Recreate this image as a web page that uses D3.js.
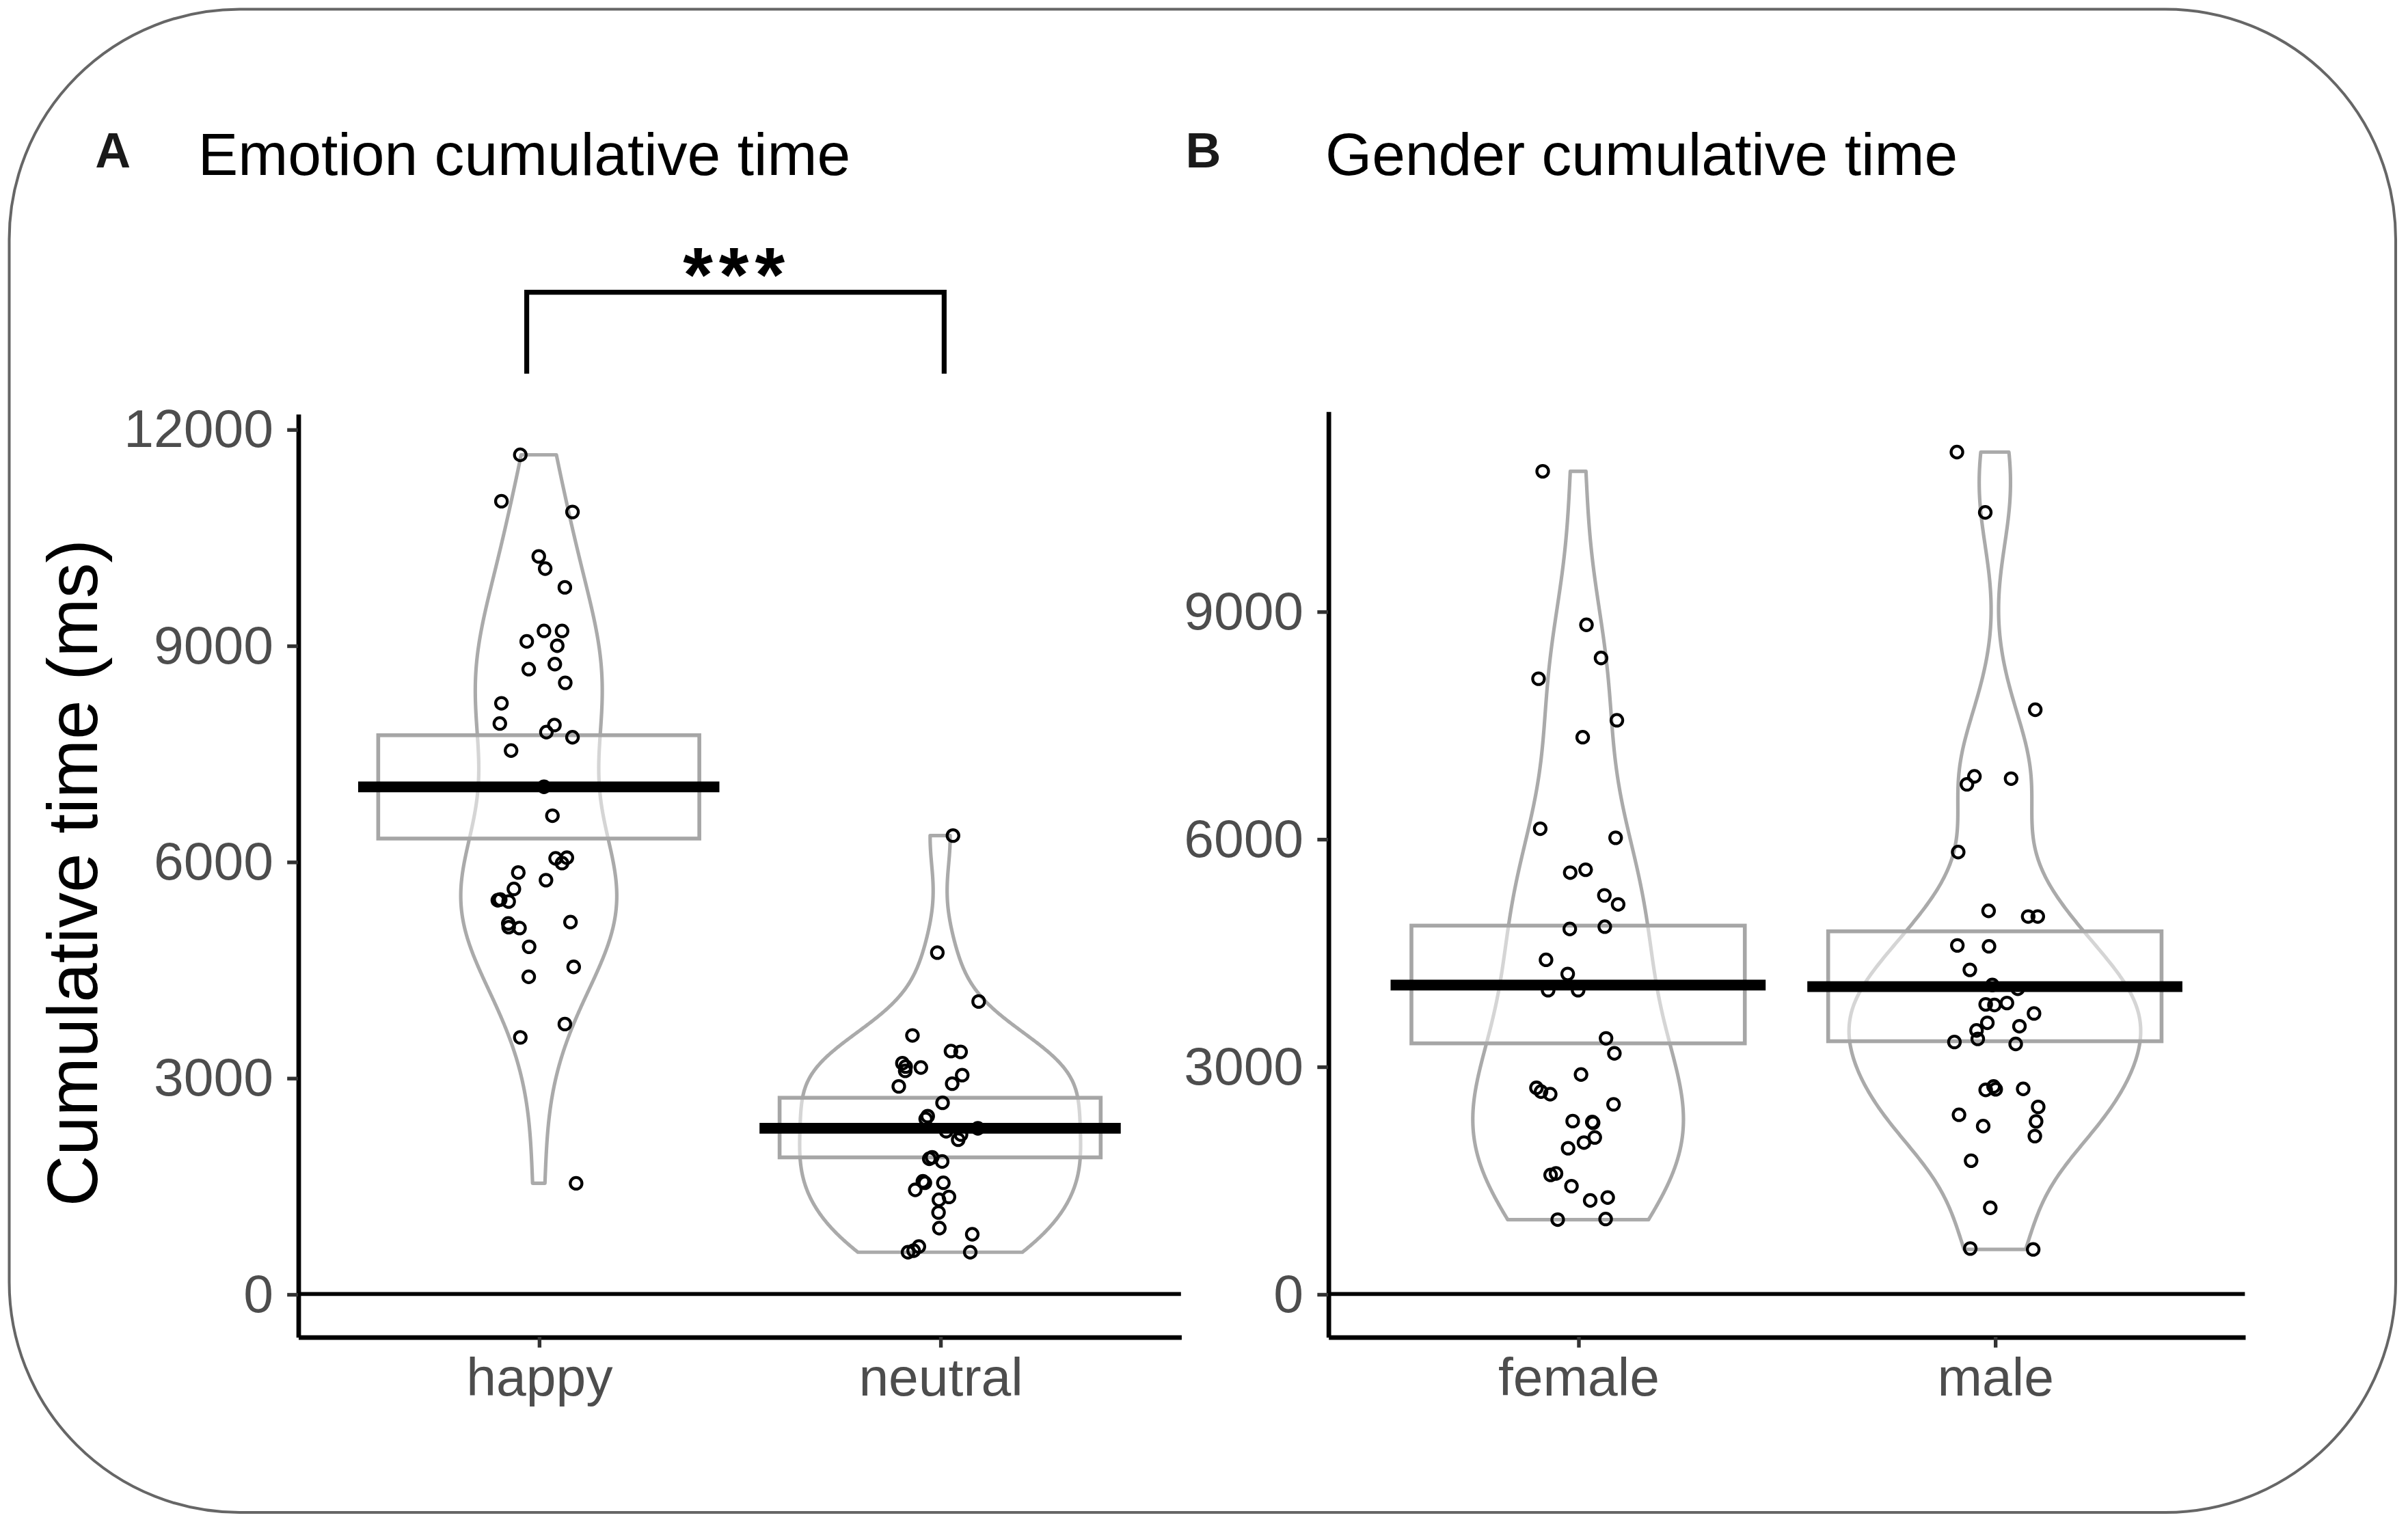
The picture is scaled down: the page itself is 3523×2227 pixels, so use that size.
<!DOCTYPE html>
<html>
<head>
<meta charset="utf-8">
<script src="https://cdn.jsdelivr.net/npm/d3@7"></script>
<style>
  html, body { margin: 0; padding: 0; background: #fff; }
  svg { display: block; }
  text { font-family: "Liberation Sans", Arial, Helvetica, sans-serif; }
</style>
</head>
<body>
<script>
// ---- data ----
var emotionCats = ["happy", "neutral"];
var genderCats = ["female", "male"];
var emotionTicks = [0, 3000, 6000, 9000, 12000];
var genderTicks = [0, 3000, 6000, 9000];

// cumulative time per trial (ms) and horizontal jitter (category units)
var happyTime = [11645, 11001, 10852, 10235, 10066, 9806, 9201, 9201, 9056, 8996, 8741, 8670, 8481, 8197, 7916, 7895, 7797, 7726, 7541, 7038, 6637, 6045, 6054, 5979, 5849, 5743, 5621, 5464, 5474, 5446, 5142, 5091, 5078, 5161, 4818, 4539, 4402, 3746, 3561, 1536];
var happyJitter = [-0.046, -0.093, 0.084, 0.000, 0.016, 0.065, 0.013, 0.058, -0.030, 0.046, 0.040, -0.025, 0.066, -0.093, -0.097, 0.039, 0.019, 0.084, -0.069, 0.013, 0.034, 0.042, 0.070, 0.058, -0.051, 0.018, -0.062, -0.102, -0.096, -0.075, -0.076, -0.075, -0.048, 0.079, -0.024, 0.087, -0.025, 0.065, -0.046, 0.093];

var neutralTime = [6361, 4737, 4059, 3588, 3371, 3360, 3203, 3156, 3096, 3143, 3037, 2919, 2881, 2653, 2468, 2429, 2259, 2141, 2212, 2299, 1896, 1877, 1839, 1564, 1543, 1543, 1445, 1347, 1308, 1131, 914, 829, 658, 601, 580, 580];
var neutralJitter = [0.032, -0.007, 0.096, -0.069, 0.027, 0.051, -0.094, -0.086, -0.087, -0.048, 0.055, 0.030, -0.103, 0.006, -0.031, -0.036, 0.015, 0.045, 0.052, 0.094, -0.020, -0.027, 0.005, -0.043, -0.038, 0.008, -0.062, 0.022, -0.003, -0.004, -0.002, 0.080, -0.053, -0.066, -0.080, 0.075];

var femaleTime = [10846, 8822, 8385, 8111, 7563, 7340, 6134, 6014, 5555, 5593, 5255, 5136, 4812, 4842, 4405, 4219, 4004, 4004, 3370, 3172, 2893, 2717, 2668, 2634, 2500, 2279, 2267, 2257, 2063, 1996, 1921, 1589, 1569, 1421, 1233, 1271, 980, 988];
var femaleJitter = [-0.085, 0.020, 0.055, -0.095, 0.093, 0.011, -0.091, 0.090, -0.019, 0.018, 0.063, 0.096, -0.020, 0.064, -0.077, -0.025, -0.072, 0.000, 0.067, 0.087, 0.007, -0.100, -0.089, -0.067, 0.085, -0.013, 0.034, 0.036, 0.040, 0.014, -0.024, -0.053, -0.066, -0.016, 0.029, 0.071, -0.049, 0.066];

var maleTime = [11099, 10304, 7702, 6824, 6719, 6794, 5826, 5051, 4976, 4976, 4595, 4583, 4273, 4073, 4024, 3818, 3810, 3836, 3698, 3575, 3474, 3530, 3362, 3322, 3296, 2735, 2690, 2698, 2704, 2466, 2362, 2275, 2213, 2081, 1757, 1136, 599, 587];
var maleJitter = [-0.091, -0.023, 0.097, -0.049, -0.067, 0.039, -0.088, -0.015, 0.080, 0.103, -0.090, -0.014, -0.060, -0.006, 0.055, -0.022, -0.001, 0.029, 0.094, -0.018, -0.044, 0.059, -0.041, -0.097, 0.050, -0.003, -0.022, 0.002, 0.068, 0.104, -0.086, 0.099, -0.028, 0.096, -0.057, -0.011, -0.059, 0.092];

// mean and 95% CI per category
var emotionMean = [7038, 2301];
var emotionLow = [6320, 1896];
var emotionHigh = [7754, 2723];
var genderMean = [4073, 4051];
var genderLow = [3304, 3332];
var genderHigh = [4856, 4781];

// significance bracket (happy vs neutral)
var sigFrom = 0.97, sigTo = 2.01, sigTop = 13900, sigFoot = 12770, sigLabel = "***";

// ---- page ----
var W = 3523, H = 2227;
var VW = 1568, VH = 991.2;

var svg = d3.select("body").append("svg")
    .attr("width", W)
    .attr("height", H)
    .attr("viewBox", "0 0 " + VW + " " + VH);

// rounded outer frame
svg.append("rect")
    .attr("x", 6).attr("y", 6)
    .attr("width", 1554).attr("height", 979)
    .attr("rx", 150).attr("ry", 150)
    .attr("fill", "#fff")
    .attr("stroke", "#666")
    .attr("stroke-width", 1.8);

// R's bw.nrd0 + gaussian kernel, evaluated on the data range (trim = TRUE)
function bwNrd0(v) {
    var s = v.slice().sort(d3.ascending);
    var iqr = d3.quantileSorted(s, 0.75) - d3.quantileSorted(s, 0.25);
    var lo = Math.min(d3.deviation(v), iqr / 1.34);
    return 0.9 * lo * Math.pow(v.length, -0.2);
}

function density(v) {
    var bw = bwNrd0(v);
    var lo = d3.min(v), hi = d3.max(v);
    var k = 1 / (v.length * bw * Math.sqrt(2 * Math.PI));
    return d3.range(512).map(function(i) {
        var y = lo + (hi - lo) * i / 511;
        var d = d3.sum(v, function(t) {
            var u = (y - t) / bw;
            return Math.exp(-0.5 * u * u);
        });
        return [y, d * k];
    });
}

function drawPanel(cfg) {
    var g = svg.append("g");

    var x = d3.scaleLinear().domain([0.4, 2.6]).range(cfg.xRange);
    var y = d3.scaleLinear().domain(cfg.yDomain).range([870.6, cfg.yTop]);

    // violins (scale = "area", width 0.7)
    var dens = cfg.groups.map(function(gr) { return density(gr.time); });
    var maxD = d3.max(dens, function(d) { return d3.max(d, function(p) { return p[1]; }); });
    var vline = d3.line()
        .x(function(p) { return x(p[0]); })
        .y(function(p) { return y(p[1]); });

    dens.forEach(function(d, i) {
        var c = i + 1;
        var left = d.map(function(p) { return [c - p[1] / maxD * 0.35, p[0]]; });
        var right = d.map(function(p) { return [c + p[1] / maxD * 0.35, p[0]]; }).reverse();
        g.append("path")
            .attr("d", vline(left.concat(right)) + "Z")
            .attr("fill", "#fff")
            .attr("stroke", "#aaaaaa")
            .attr("stroke-width", 2.3)
            .attr("stroke-linejoin", "round");
    });

    // CI boxes
    g.selectAll(".ci")
        .data(cfg.cats)
        .enter()
        .append("rect")
        .attr("x", function(d, i) { return x(i + 1 - 0.4); })
        .attr("width", function() { return x(1.4) - x(0.6); })
        .attr("y", function(d, i) { return y(cfg.high[i]); })
        .attr("height", function(d, i) { return y(cfg.low[i]) - y(cfg.high[i]); })
        .attr("fill", "#fff")
        .attr("fill-opacity", 0.5)
        .attr("stroke", "#a6a6a6")
        .attr("stroke-width", 2.5);

    // jittered points
    cfg.groups.forEach(function(gr, i) {
        g.selectAll(null)
            .data(gr.time)
            .enter()
            .append("circle")
            .attr("cx", function(d, j) { return x(i + 1 + gr.jitter[j]); })
            .attr("cy", function(d) { return y(d); })
            .attr("r", 3.8)
            .attr("fill", "none")
            .attr("stroke", "#000")
            .attr("stroke-width", 1.9);
    });

    // mean lines
    g.selectAll(".mean")
        .data(cfg.mean)
        .enter()
        .append("line")
        .attr("x1", function(d, i) { return x(i + 1 - 0.45); })
        .attr("x2", function(d, i) { return x(i + 1 + 0.45); })
        .attr("y1", function(d) { return y(d); })
        .attr("y2", function(d) { return y(d); })
        .attr("stroke", "#000")
        .attr("stroke-width", 7);

    // zero reference line
    g.append("line")
        .attr("x1", cfg.xRange[0]).attr("x2", cfg.xRange[1])
        .attr("y1", y(0)).attr("y2", y(0))
        .attr("stroke", "#000")
        .attr("stroke-width", 2.6);

    // axes
    var yAxis = g.append("g")
        .attr("transform", "translate(" + cfg.xRange[0] + ",0)")
        .call(d3.axisLeft(y).tickValues(cfg.ticks).tickFormat(d3.format("d"))
            .tickSize(7).tickSizeOuter(0).tickPadding(9));
    var xAxis = g.append("g")
        .attr("transform", "translate(0,870.6)")
        .call(d3.axisBottom(x).tickValues([1, 2])
            .tickFormat(function(d) { return cfg.cats[d - 1]; })
            .tickSize(7).tickSizeOuter(0).tickPadding(6.5));

    [yAxis, xAxis].forEach(function(a) {
        a.select(".domain").attr("stroke", "#000").attr("stroke-width", 3);
        a.selectAll(".tick line").attr("stroke", "#333").attr("stroke-width", 2.4);
        a.selectAll(".tick text")
            .attr("fill", "#4d4d4d")
            .style("font-size", "35px")
            .style("font-family", "'Liberation Sans', Arial, sans-serif");
    });

    // titles
    svg.append("text")
        .attr("x", cfg.letterX).attr("y", 109)
        .attr("fill", "#1a1a1a")
        .style("font-size", "32px")
        .style("font-weight", "bold")
        .text(cfg.letter);
    svg.append("text")
        .attr("x", cfg.titleX).attr("y", 114)
        .attr("fill", "#000")
        .style("font-size", "39px")
        .text(cfg.title);

    return { x: x, y: y, g: g };
}

var panelA = drawPanel({
    cats: emotionCats,
    groups: [{ time: happyTime, jitter: happyJitter }, { time: neutralTime, jitter: neutralJitter }],
    mean: emotionMean, low: emotionLow, high: emotionHigh,
    ticks: emotionTicks,
    xRange: [194, 769],
    yDomain: [-594, 12216], yTop: 269.4,
    letter: "A", letterX: 62,
    title: "Emotion cumulative time", titleX: 129
});

var panelB = drawPanel({
    cats: genderCats,
    groups: [{ time: femaleTime, jitter: femaleJitter }, { time: maleTime, jitter: maleJitter }],
    mean: genderMean, low: genderLow, high: genderHigh,
    ticks: genderTicks,
    xRange: [864.8, 1461.8],
    yDomain: [-565, 11638], yTop: 267.8,
    letter: "B", letterX: 772,
    title: "Gender cumulative time", titleX: 863
});

// significance bracket on panel A
var xa = panelA.x, ya = panelA.y;
panelA.g.append("path")
    .attr("d", d3.line()([
        [xa(sigFrom), ya(sigFoot)], [xa(sigFrom), ya(sigTop)],
        [xa(sigTo), ya(sigTop)], [xa(sigTo), ya(sigFoot)]
    ]))
    .attr("fill", "none")
    .attr("stroke", "#000")
    .attr("stroke-width", 3.2)
    .attr("stroke-linejoin", "miter");
panelA.g.append("text")
    .attr("x", (xa(sigFrom) + xa(sigTo)) / 2 + 1)
    .attr("y", ya(sigTop) + 6)
    .attr("text-anchor", "middle")
    .attr("fill", "#000")
    .style("font-size", "50px")
    .style("font-weight", "bold")
    .style("letter-spacing", "4px")
    .text(sigLabel);

// y-axis title (shared, left)
svg.append("text")
    .attr("transform", "translate(63,568.5) rotate(-90)")
    .attr("text-anchor", "middle")
    .attr("fill", "#000")
    .style("font-size", "46px")
    .text("Cumulative time (ms)");
</script>
</body>
</html>
